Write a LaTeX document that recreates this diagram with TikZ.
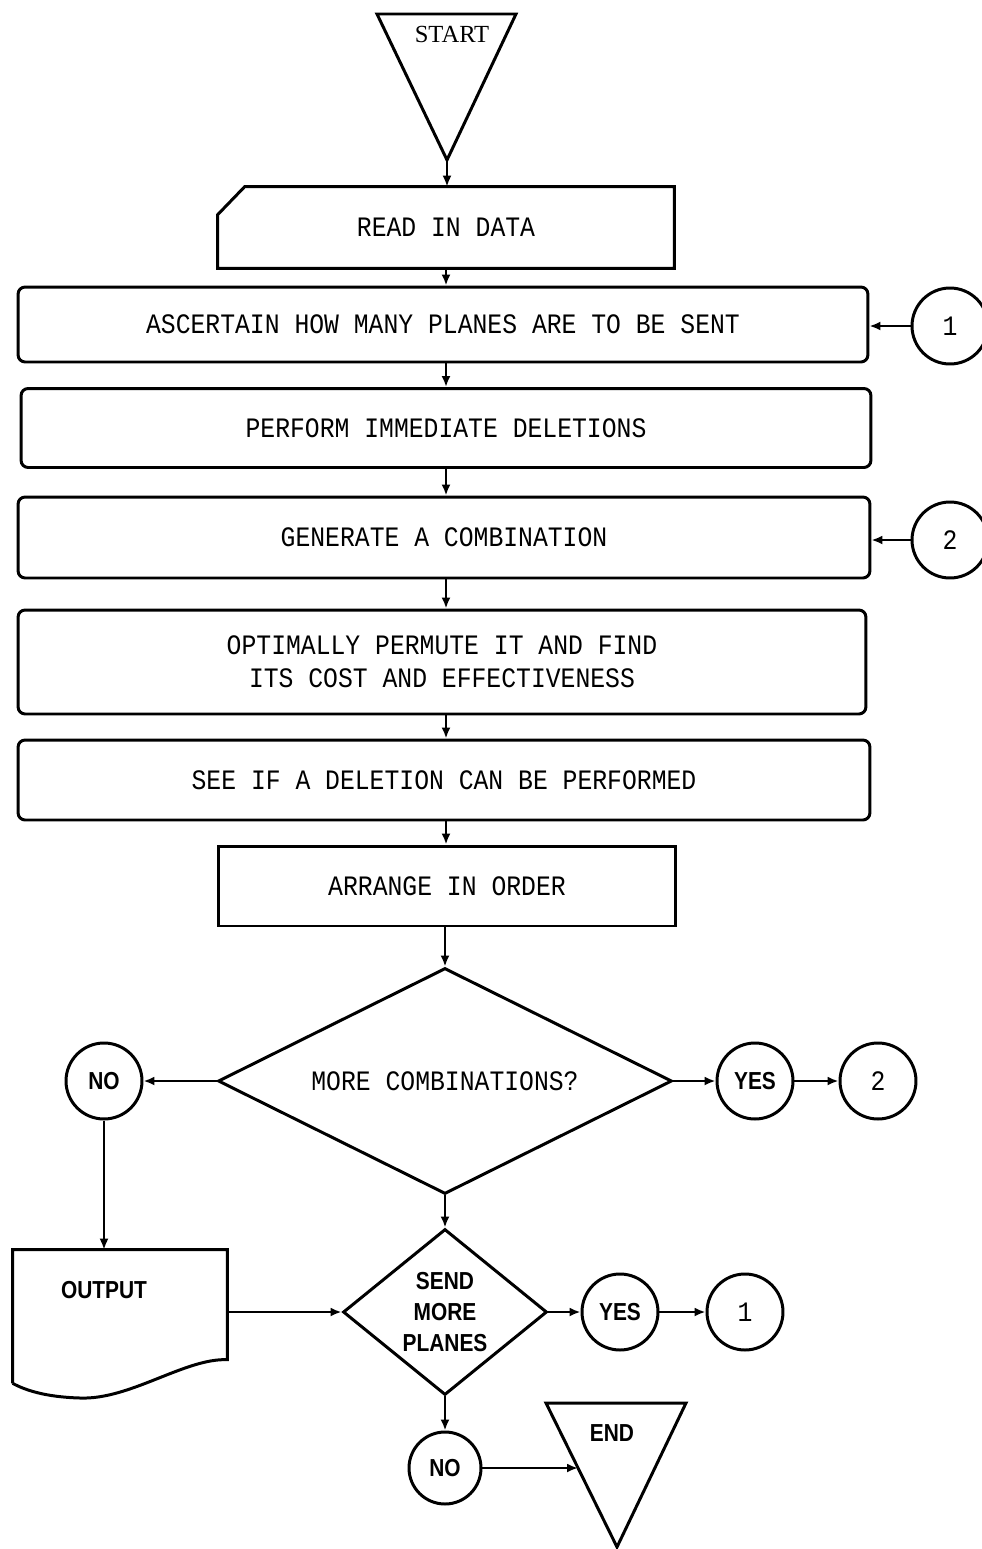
\documentclass[tikz,border=0pt]{standalone}
\usepackage{fontspec}
\setmainfont{Liberation Mono}
\newfontfamily\boxfont[FakeStretch=0.88]{Liberation Mono}
\newfontfamily\tagfont[FakeStretch=0.85]{Liberation Sans}
\newfontfamily\termfont{Liberation Serif}
\usepackage{tikz}
\usetikzlibrary{shapes,arrows.meta,positioning,calc}

\begin{document}
\begin{tikzpicture}[
    x=0.02cm, y=-0.02cm,
    box/.style={rectangle, draw, line width=1.7pt, rounded corners=4pt, inner sep=0pt, align=center, font=\boxfont\fontsize{16}{19}\selectfont},
    flat/.style={rectangle, inner sep=0pt, align=center, font=\boxfont\fontsize{16}{19}\selectfont},
    conn/.style={circle, draw, line width=1.7pt, minimum size=1.52cm, inner sep=0pt, font=\boxfont\fontsize{16}{19}\selectfont},
    tag/.style={circle, draw, line width=1.7pt, minimum size=1.52cm, inner sep=0pt, font=\tagfont\bfseries\fontsize{14}{17.6}\selectfont},
    choice/.style={diamond, draw, line width=1.7pt, inner sep=0pt, align=center},
    label/.style={inner sep=0pt, font=\tagfont\bfseries\fontsize{14}{17}\selectfont},
    arrow/.style={-{Latex[length=2.2mm,width=1.8mm]}, line width=1.5pt}
]
\useasboundingbox (0,0) rectangle (981,1549);

\coordinate (sapex) at (447,160);
\draw[line width=1.7pt] (377,14) -- (516,14) -- (sapex) -- cycle;
\node[inner sep=0pt, font=\termfont\fontsize{14}{17}\selectfont] (start) at (452,34) {START};

\node[flat, minimum width=9.12cm, minimum height=1.62cm] (read) at (446,227.5) {READ IN DATA};
\draw[line width=1.7pt] ($(read.north west)+(0,28)$) -- ($(read.north west)+(27,0)$) -- (read.north east) -- (read.south east) -- (read.south west) -- cycle;

\node[box, minimum width=17cm, minimum height=1.5cm] (asc) at (443,324.5) {ASCERTAIN HOW MANY PLANES ARE TO BE SENT};
\node[box, minimum width=17cm, minimum height=1.58cm] (perf) at (446,428) {PERFORM IMMEDIATE DELETIONS};
\node[box, minimum width=17.04cm, minimum height=1.62cm] (gen) at (444,537.5) {GENERATE A COMBINATION};
\node[box, minimum width=16.96cm, minimum height=2.08cm] (opt) at (442,662) {OPTIMALLY PERMUTE IT AND FIND\\ITS COST AND EFFECTIVENESS};
\node[box, minimum width=17.04cm, minimum height=1.6cm] (see) at (444,780) {SEE IF A DELETION CAN BE PERFORMED};
\node[box, rounded corners=0pt, minimum width=9.16cm, minimum height=1.6cm] (arr) at (447,886) {ARRANGE IN ORDER};

\node[conn] (c1) at (950,326) {1};
\node[conn] (c2) at (950,540) {2};

\node[choice, aspect=2, minimum width=9.08cm, minimum height=4.52cm, font=\boxfont\fontsize{16}{19}\selectfont] (more) at (445,1081) {MORE COMBINATIONS?};
\node[tag] (no1) at (104,1081) {NO};
\node[tag] (yes1) at (755,1081) {YES};
\node[conn] (two) at (878,1081) {2};

\node[inner sep=0pt, minimum width=4.28cm, minimum height=2.66cm] (out) at (120,1316.5) {};
\draw[line width=1.7pt] (out.south west) -- (out.north west) -- (out.north east) -- ($(out.north east)+(0,110)$)
    .. controls (185,1358) and (130,1400) .. (80,1398) .. controls (45,1397) and (25,1390) .. (out.south west);
\node[label] (outlbl) at (104,1290) {OUTPUT};

\node[choice, aspect=1.23, minimum width=4.08cm, minimum height=3.32cm, font=\tagfont\bfseries\fontsize{14}{17.6}\selectfont] (send) at (445,1312) {SEND\\MORE\\PLANES};
\node[tag] (yes2) at (620,1312) {YES};
\node[conn] (one) at (745,1312) {1};
\node[tag, minimum size=1.44cm] (no2) at (445,1468) {NO};

\draw[line width=1.7pt] (546,1403) -- (686,1403) -- (617,1547) -- cycle;
\node[label] (endlbl) at (612,1433) {END};
\coordinate (endin) at (578,1468);

\draw[arrow] (sapex) -- (sapex |- read.north);
\draw[arrow] (read.south) -- (read.south |- asc.north);
\draw[arrow] (asc.south -| read.south) -- (read.south |- perf.north);
\draw[arrow] (perf.south -| read.south) -- (read.south |- gen.north);
\draw[arrow] (gen.south -| read.south) -- (read.south |- opt.north);
\draw[arrow] (opt.south -| read.south) -- (read.south |- see.north);
\draw[arrow] (see.south -| read.south) -- (read.south |- arr.north);
\draw[arrow] (arr.south -| more.north) -- (more.north);
\draw[arrow] (c1) -- (asc.east |- c1);
\draw[arrow] (c2) -- (gen.east |- c2);
\draw[arrow] (more.west) -- (no1);
\draw[arrow] (more.east) -- (yes1);
\draw[arrow] (yes1) -- (two);
\draw[arrow] (no1) -- (no1 |- out.north);
\draw[arrow] (more.south) -- (send.north);
\draw[arrow] (out.east |- send.west) -- (send.west);
\draw[arrow] (send.east) -- (yes2);
\draw[arrow] (yes2) -- (one);
\draw[arrow] (send.south) -- (no2);
\draw[arrow] (no2) -- (endin);

\end{tikzpicture}
\end{document}
